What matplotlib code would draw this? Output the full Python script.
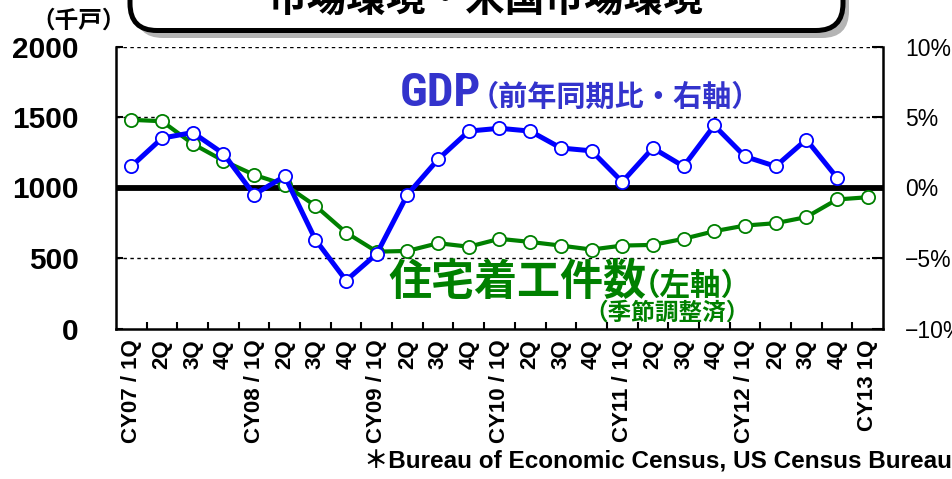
import matplotlib
matplotlib.use('Agg')
import matplotlib.pyplot as plt
from matplotlib import font_manager
from matplotlib.patches import FancyBboxPatch
import numpy as np

# データ
quarters = ['CY07 / 1Q', '2Q', '3Q', '4Q', 'CY08 / 1Q', '2Q', '3Q', '4Q',
            'CY09 / 1Q', '2Q', '3Q', '4Q', 'CY10 / 1Q', '2Q', '3Q', '4Q',
            'CY11 / 1Q', '2Q', '3Q', '4Q', 'CY12 / 1Q', '2Q', '3Q', '4Q', 'CY13 1Q']
housing_starts = [1480, 1470, 1310, 1190, 1090, 1020, 870, 680, 545, 550,
                  605, 580, 636, 614, 588, 560, 588, 593, 636, 690,
                  730, 747, 790, 915, 931]
gdp_yoy = [1.5, 3.5, 3.9, 2.4, -0.5, 0.8, -3.7, -6.6, -4.7, -0.5,
           2.0, 4.0, 4.2, 4.0, 2.8, 2.6, 0.4, 2.8, 1.5, 4.4,
           2.2, 1.5, 3.4, 0.7, np.nan]
left_ticks = [0, 500, 1000, 1500, 2000]
right_ticks = [-10, -5, 0, 5, 10]
right_labels = ['−10%', '−5%', '0%', '5%', '10%']

plt.rcParams['font.family'] = ['Liberation Sans', 'Noto Sans CJK JP', 'DejaVu Sans']
names = {f.name for f in font_manager.fontManager.ttflist}
# GDPの文字は細長いフォント
if 'Liberation Sans Narrow' in names:
    gdp_font, gdp_size = 'Liberation Sans Narrow', 34
elif 'Roboto Condensed' in names:
    gdp_font, gdp_size = 'Roboto Condensed', 34
else:
    gdp_font, gdp_size = 'Roboto', 30
jp = ['Noto Sans CJK JP', 'DejaVu Sans']

W, H = 953, 479
fig = plt.figure(figsize=(W / 100, H / 100), dpi=100)


def px(x, y):
    return x / W, 1 - y / H


ax = fig.add_axes([116 / W, 1 - 328.5 / H, 767 / W, 282 / H])
x = np.arange(len(quarters))

# 補助線
for v in [500, 1500, 2000]:
    ax.axhline(v, color='black', lw=1, ls=(0, (2.5, 2.5)), zorder=1)
ax.axhline(1000, color='black', lw=4.2, zorder=2)

ax.plot(x, housing_starts, color='#008000', lw=3.0, marker='o', ms=9.5,
        mfc='white', mec='#008000', mew=1.3, zorder=3)

ax.set_xlim(-0.5, len(quarters) - 0.5)
ax.set_ylim(0, 2000)
ax.set_yticks(left_ticks)
ax.set_yticklabels([str(v) for v in left_ticks], fontsize=21.5, fontweight='bold')
ax.tick_params(axis='y', direction='in', length=5, width=1.5, pad=27)
ax.set_xticks(x)
ax.set_xticklabels(quarters, rotation=90, fontsize=16, fontweight='bold')
ax.set_xticks(np.arange(0.5, len(quarters) - 1, 1), minor=True)
ax.tick_params(axis='x', which='major', length=0, pad=8)
ax.tick_params(axis='x', which='minor', direction='in', length=5, width=1.5)
ax.spines['top'].set_visible(False)
ax.spines['right'].set_visible(False)
for s in ['left', 'bottom']:
    ax.spines[s].set_linewidth(1.8)

ax2 = ax.twinx()
ax2.plot(x, gdp_yoy, color='#0000FF', lw=3.6, marker='o', ms=9.5,
         mfc='white', mec='#0000FF', mew=1.3, zorder=4)
ax2.set_ylim(-10, 10)
ax2.set_yticks(right_ticks)
ax2.set_yticklabels(right_labels, fontsize=16.5)
ax2.tick_params(axis='y', direction='in', length=8, width=1.5, pad=16)
for s in ['top', 'left', 'bottom']:
    ax2.spines[s].set_visible(False)
ax2.spines['right'].set_linewidth(1.8)

# タイトルボックス
shadow = FancyBboxPatch((1.36, H / 100 - 0.38), 7.13, 1.0,
                        boxstyle='round,pad=0,rounding_size=0.27',
                        fc='#b4b4b4', ec='none', transform=fig.dpi_scale_trans)
box = FancyBboxPatch((1.30, H / 100 - 0.305), 7.13, 1.0,
                     boxstyle='round,pad=0,rounding_size=0.27',
                     fc='white', ec='black', lw=3.6, transform=fig.dpi_scale_trans)
fig.add_artist(shadow)
fig.add_artist(box)
fig.text(*px(485, 11), '市場環境・米国市場環境', family=jp, fontsize=28.5,
         fontweight='bold', ha='center', va='baseline', zorder=5)

fig.text(*px(79, 21), '（千戸）', family=jp, fontsize=17, fontweight='bold',
         ha='center', va='center')

# 系列ラベル
fig.text(*px(400, 106), 'GDP', family=[gdp_font, 'DejaVu Sans'], fontsize=gdp_size,
         fontweight='bold', color='#3333CC', ha='left', va='baseline')
fig.text(*px(470, 106), '（前年同期比・右軸）', family=jp, fontsize=21,
         fontweight='bold', color='#3333CC', ha='left', va='baseline')
fig.text(*px(388, 295), '住宅着工件数', family=jp, fontsize=31,
         fontweight='bold', color='#008000', ha='left', va='baseline')
fig.text(*px(630, 295), '（左軸）', family=jp, fontsize=22,
         fontweight='bold', color='#008000', ha='left', va='baseline')
fig.text(*px(584, 320), '（季節調整済）', family=jp, fontsize=17,
         fontweight='bold', color='#008000', ha='left', va='baseline')

fig.text(*px(952, 462), '＊Bureau of Economic Census, US Census Bureau',
         family=['Liberation Sans', 'Noto Sans CJK JP'], fontsize=17.5,
         fontweight='bold', ha='right', va='center')

fig.savefig('out.png', dpi=100)
